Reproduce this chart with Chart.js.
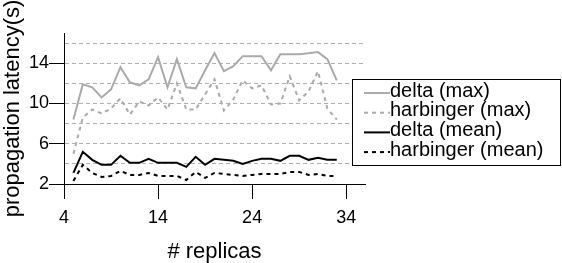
<!DOCTYPE html>
<html>
<head>
<meta charset="utf-8">
<script src="https://cdn.jsdelivr.net/npm/chart.js@4.4.1/dist/chart.umd.min.js"></script>
<style>
html, body { margin: 0; padding: 0; background: #fff; }
#wrap { width: 562px; height: 263px; }
</style>
</head>
<body>
<div id="wrap"><canvas id="chart" width="562" height="263"></canvas></div>
<script>
// Data
const replicas = [5, 6, 7, 8, 9, 10, 11, 12, 13, 14, 15, 16, 17, 18, 19, 20, 21, 22, 23, 24, 25, 26, 27, 28, 29, 30, 31, 32, 33];
const deltaMax = [8.4, 11.9, 11.6, 10.6, 11.4, 13.6, 12.1, 11.8, 12.4, 14.6, 11.6, 14.4, 11.6, 11.5, 13.3, 15.0, 13.2, 13.7, 14.7, 14.7, 14.7, 13.3, 14.9, 14.9, 14.9, 15.0, 15.1, 14.4, 12.3];
const harbingerMax = [5.0, 8.6, 9.4, 9.0, 9.5, 10.5, 8.9, 10.2, 9.8, 10.6, 9.4, 12.0, 9.4, 9.4, 10.9, 12.4, 9.3, 10.4, 12.3, 11.5, 11.8, 9.9, 10.0, 12.7, 10.3, 11.2, 13.2, 9.5, 8.4];
const deltaMean = [3.1, 5.2, 4.4, 3.9, 3.9, 4.8, 4.1, 4.1, 4.5, 4.1, 4.1, 4.1, 3.7, 4.7, 3.9, 4.5, 4.4, 4.3, 4.0, 4.3, 4.5, 4.5, 4.3, 4.8, 4.8, 4.4, 4.6, 4.4, 4.4];
const harbingerMean = [2.3, 3.9, 3.1, 2.7, 2.8, 3.3, 2.9, 2.9, 3.1, 2.8, 2.8, 2.8, 2.4, 3.2, 2.6, 3.1, 3.0, 2.9, 2.8, 2.9, 3.0, 3.0, 3.0, 3.2, 3.2, 2.9, 3.0, 2.8, 2.8];

const xTicks = [4, 14, 24, 34];
const yTicks = [2, 4, 6, 8, 10, 12, 14, 16];
const yLabels = [2, 6, 10, 14];

const FONT = '"Liberation Sans", Arial, Helvetica, sans-serif';
const GRAY = '#aaaaaa';

function points(values) {
    return values.map((v, i) => ({ x: replicas[i], y: v }));
}

// Boxed legend drawn over the right side of the plot
const boxLegend = {
    id: 'boxLegend',
    afterDraw(chart) {
        const ctx = chart.ctx;
        ctx.save();
        ctx.fillStyle = '#fff';
        ctx.fillRect(352.5, 79.5, 208, 86);
        ctx.strokeStyle = '#000';
        ctx.lineWidth = 1;
        ctx.strokeRect(352.5, 79.5, 208, 86);
        ctx.font = '20px ' + FONT;
        ctx.textBaseline = 'middle';
        ctx.textAlign = 'left';
        chart.data.datasets.forEach((ds, i) => {
            const y = 93 + i * 19.7;
            ctx.strokeStyle = ds.borderColor;
            ctx.lineWidth = 2;
            ctx.setLineDash(ds.borderDash || []);
            ctx.beginPath();
            ctx.moveTo(364, y);
            ctx.lineTo(390, y);
            ctx.stroke();
            ctx.setLineDash([]);
            ctx.fillStyle = '#000';
            ctx.fillText(ds.label, 390, y - 2);
        });
        ctx.restore();
    }
};

new Chart(document.getElementById('chart'), {
    type: 'line',
    data: {
        datasets: [
            { label: 'delta (max)', data: points(deltaMax), borderColor: GRAY, borderWidth: 2 },
            { label: 'harbinger (max)', data: points(harbingerMax), borderColor: GRAY, borderWidth: 2, borderDash: [4, 4] },
            { label: 'delta (mean)', data: points(deltaMean), borderColor: '#000', borderWidth: 2 },
            { label: 'harbinger (mean)', data: points(harbingerMean), borderColor: '#000', borderWidth: 2, borderDash: [4, 4] }
        ]
    },
    options: {
        responsive: false,
        animation: false,
        devicePixelRatio: 1,
        layout: { padding: { top: 33, right: 197, left: 0, bottom: 0 } },
        elements: { point: { radius: 0 }, line: { tension: 0 } },
        plugins: { legend: { display: false }, tooltip: { enabled: false } },
        scales: {
            x: {
                type: 'linear',
                min: 4,
                max: 36,
                afterBuildTicks: s => { s.ticks = xTicks.map(v => ({ value: v })); },
                afterFit: s => { s.height = 79; },
                ticks: { color: '#000', font: { family: FONT, size: 18 }, padding: 8, maxRotation: 0, autoSkip: false },
                grid: { drawOnChartArea: false, tickLength: 15, tickColor: '#000', lineWidth: 1 },
                border: { color: '#000', width: 1 },
                title: { display: true, text: '# replicas', color: '#000', font: { family: FONT, size: 22 }, padding: { top: 0, bottom: -2 } }
            },
            y: {
                min: 2,
                max: 17,
                afterBuildTicks: s => { s.ticks = yTicks.map(v => ({ value: v })); },
                afterFit: s => { s.width = 64; },
                ticks: {
                    color: '#000',
                    font: { family: FONT, size: 18 },
                    padding: 0,
                    autoSkip: false,
                    callback: v => yLabels.includes(v) ? String(v) : ''
                },
                grid: {
                    tickLength: 15,
                    lineWidth: 1,
                    color: c => c.tick && c.tick.value === 2 ? 'rgba(0,0,0,0)' : '#b0b0b0',
                    tickColor: c => c.tick && yLabels.includes(c.tick.value) ? '#000' : 'rgba(0,0,0,0)'
                },
                border: { color: '#000', width: 1, dash: [4, 3] },
                title: { display: true, text: 'propagation latency(s)', color: '#000', font: { family: FONT, size: 22 }, padding: { top: 0, bottom: 0 } }
            }
        }
    },
    plugins: [boxLegend]
});
</script>
</body>
</html>
